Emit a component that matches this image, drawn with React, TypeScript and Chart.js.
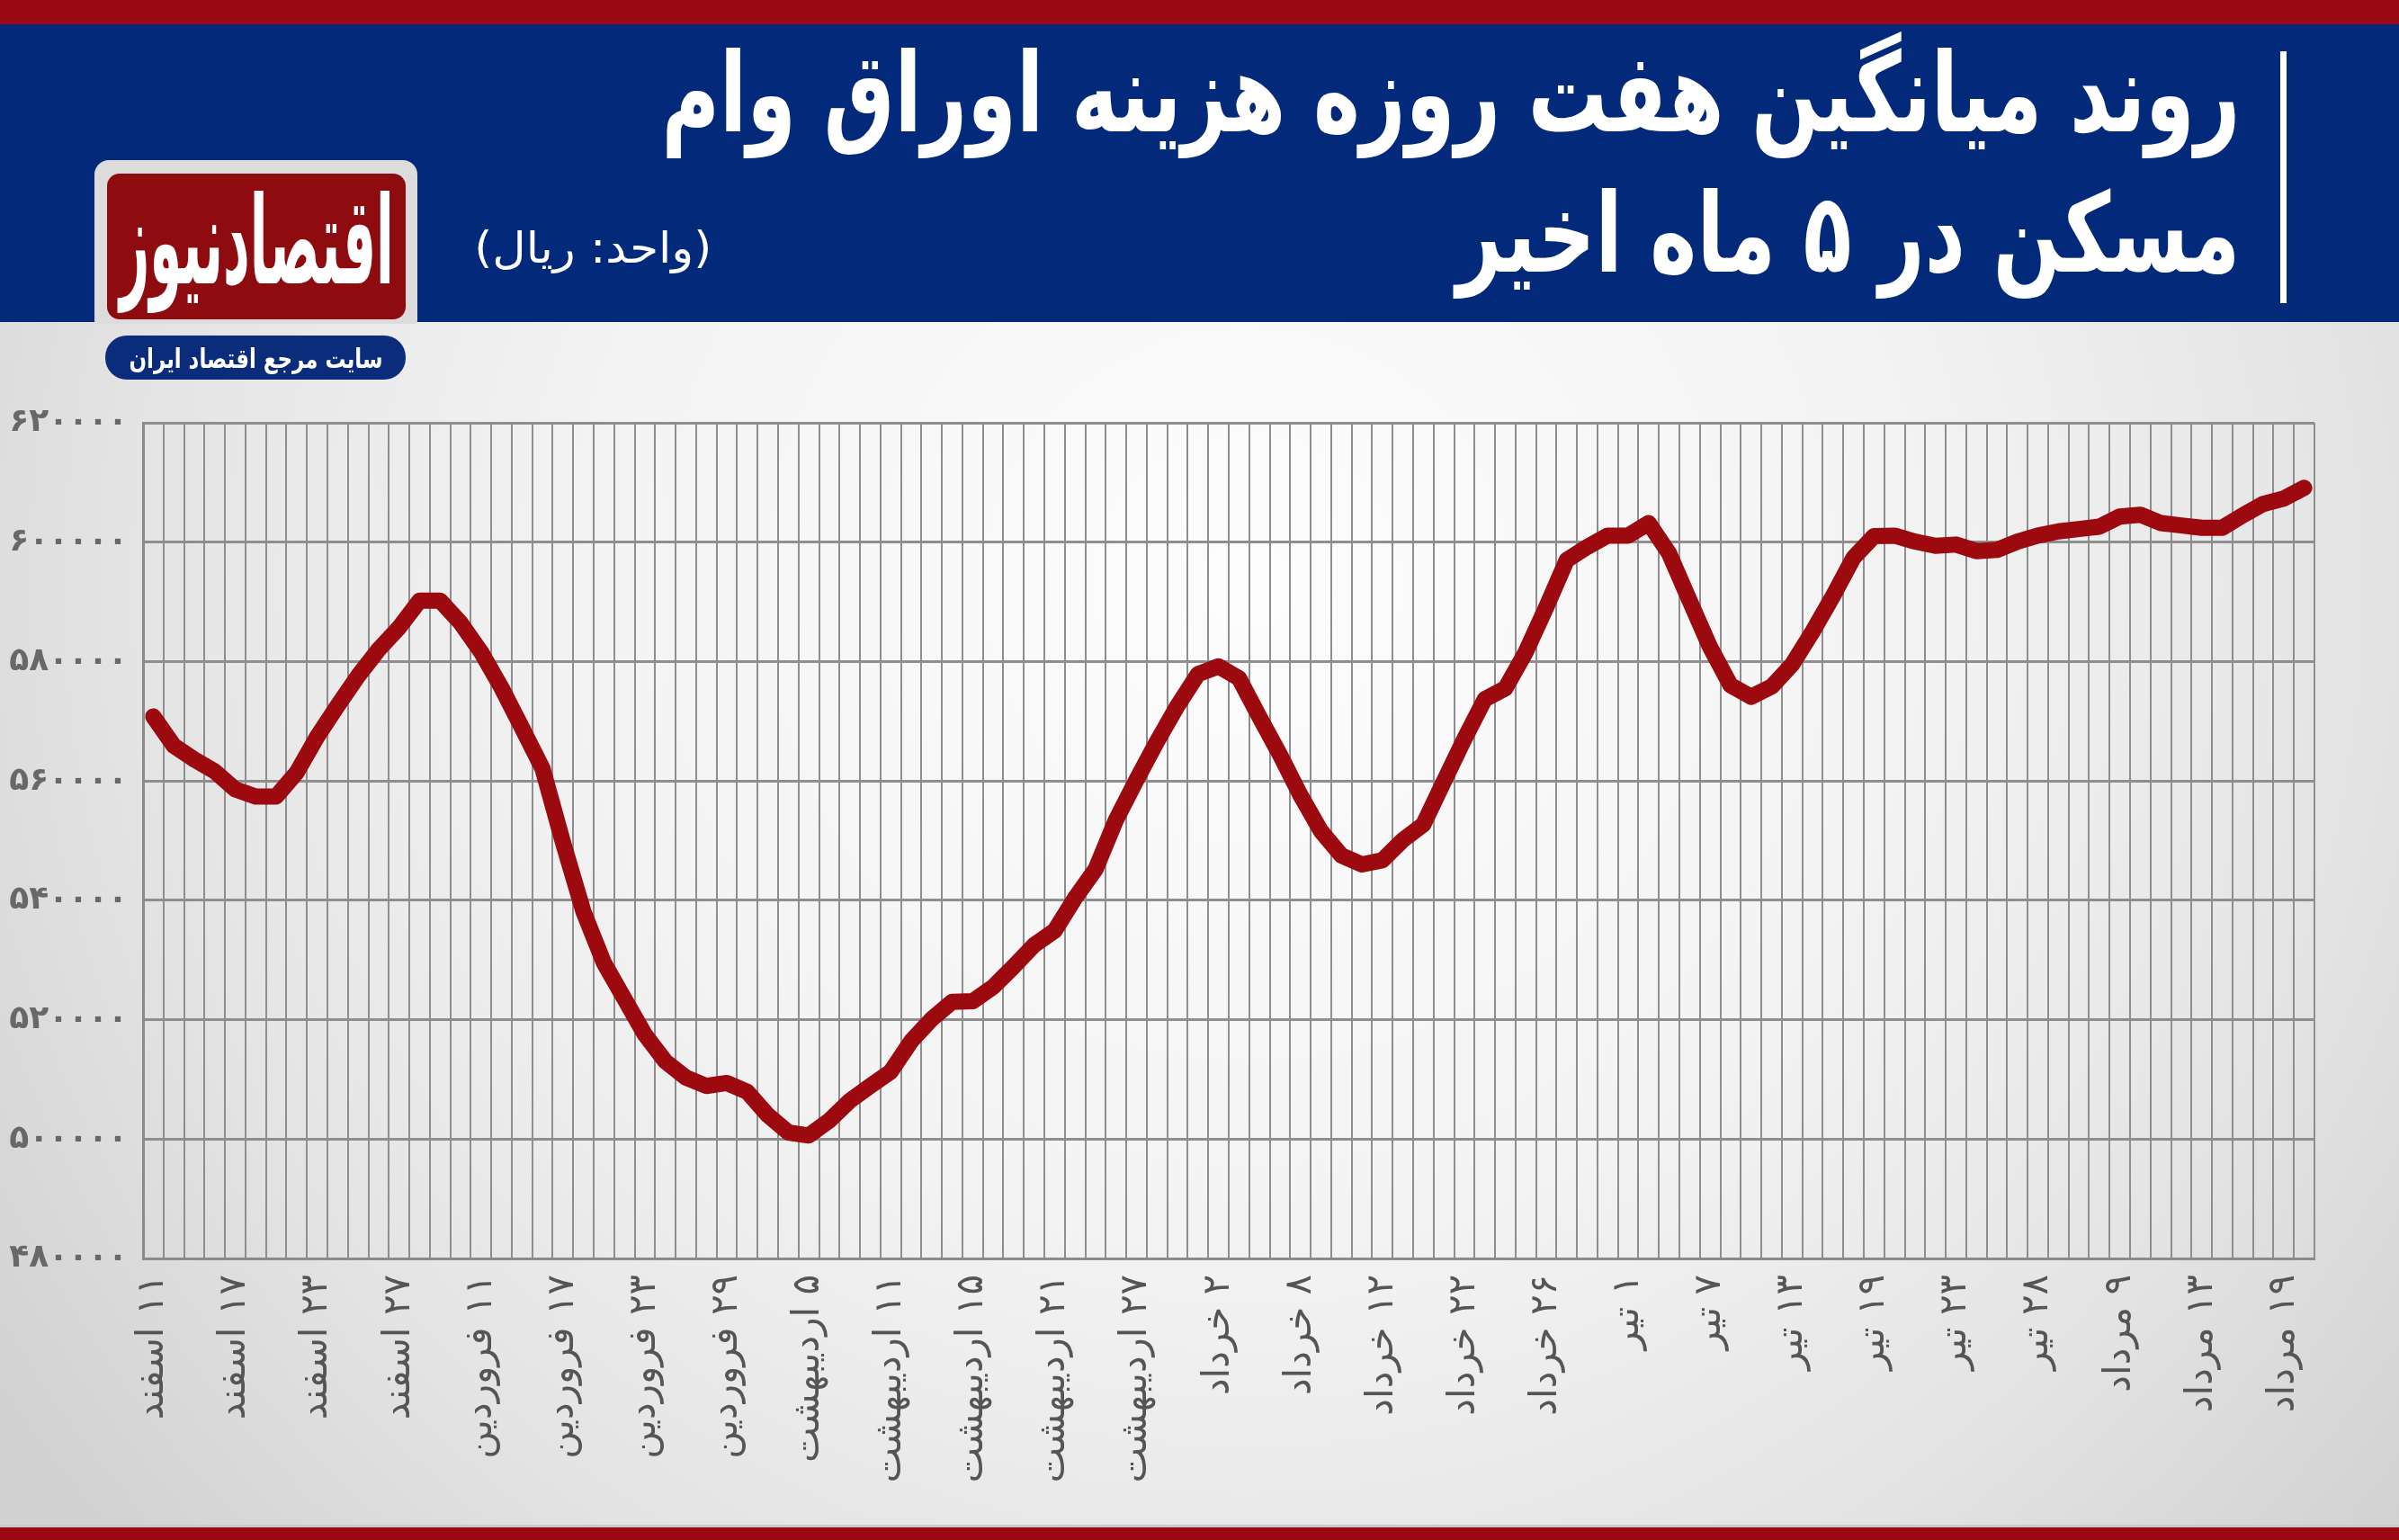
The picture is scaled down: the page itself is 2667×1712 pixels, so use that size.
import React, { useEffect, useRef } from "react";
import { Chart, registerables } from "chart.js";

Chart.register(...registerables);

// ---------- data ----------
const tickLabels: string[] = [
  "۱۱ اسفند", "۱۷ اسفند", "۲۳ اسفند", "۲۷ اسفند",
  "۱۱ فروردین", "۱۷ فروردین", "۲۳ فروردین", "۲۹ فروردین",
  "۵ اردیبهشت", "۱۱ اردیبهشت", "۱۵ اردیبهشت", "۲۱ اردیبهشت", "۲۷ اردیبهشت",
  "۲ خرداد", "۸ خرداد", "۱۲ خرداد", "۲۲ خرداد", "۲۶ خرداد",
  "۱ تیر", "۷ تیر", "۱۳ تیر", "۱۹ تیر", "۲۳ تیر", "۲۸ تیر",
  "۹ مرداد", "۱۳ مرداد", "۱۹ مرداد",
];

const costValues: number[] = [
  570800, 565900, 563600, 561600, 558600, 557400, 557400, 561400, 567400, 572600,
  577600, 582000, 585700, 590200, 590200, 586500, 581600, 575600, 568900, 562100,
  549700, 538100, 529500, 523500, 517500, 513000, 510300, 508900, 509400, 507900,
  504000, 501100, 500600, 503100, 506400, 508900, 511300, 516400, 520100, 523000,
  523100, 525500, 528900, 532500, 534900, 540400, 545200, 553500, 560200, 566600,
  572600, 577900, 579200, 577200, 570700, 564400, 557600, 551600, 547500, 546000,
  546700, 550100, 552700, 559900, 567000, 573700, 575500, 581600, 589100, 597000,
  599200, 601100, 601100, 603200, 598100, 590200, 582400, 576000, 574100, 575800,
  579500, 585000, 591000, 597400, 601000, 601100, 600100, 599400, 599600, 598500,
  598700, 600100, 601100, 601800, 602200, 602600, 604300, 604600, 603200, 602800,
  602400, 602400, 604500, 606400, 607300, 609100,
];

const labelEvery = 4;
const yMin = 480000;
const yMax = 620000;
const yStep = 20000;

const titleLine1 = "روند میانگین هفت روزه هزینه اوراق وام";
const titleLine2 = "مسکن در ۵ ماه اخیر";
const unitText = "(واحد: ریال)";
const logoText = "اقتصادنیوز";
const logoTagline = "سایت مرجع اقتصاد ایران";

const categories: string[] = costValues.map((_, i) =>
  i % labelEvery === 0 ? tickLabels[i / labelEvery] ?? "" : ""
);

// ---------- helpers ----------
const W = 2667;
const H = 1712;
const FONT = "'DejaVu Sans', sans-serif";

const faDigits = (n: number | string) =>
  String(n).replace(/\d/g, (d) => "۰۱۲۳۴۵۶۷۸۹"[Number(d)]);

let measureCtx: CanvasRenderingContext2D | null = null;
function measure(text: string, font: string): number {
  if (!measureCtx) {
    const c = document.createElement("canvas");
    measureCtx = c.getContext("2d");
  }
  if (!measureCtx) return 1;
  measureCtx.font = font;
  return measureCtx.measureText(text).width || 1;
}

type TxtProps = {
  text: string;
  baseline: number;
  size: number;
  weight?: string;
  color?: string;
  right?: number;
  centerX?: number;
  width?: number;
  scale?: number;
};

function Txt({ text, baseline, size, weight = "normal", color = "#fff", right, centerX, width, scale }: TxtProps) {
  const font = `${weight} ${size}px ${FONT}`;
  const natural = measure(text, font);
  const s = scale ?? (width ? width / natural : 1);
  const top = baseline - 0.846 * size;
  const style: React.CSSProperties = {
    position: "absolute",
    top,
    font,
    lineHeight: `${size}px`,
    color,
    whiteSpace: "nowrap",
    direction: "rtl",
  };
  if (right !== undefined) {
    style.left = right - natural;
    style.width = natural;
    style.transform = `scaleX(${s})`;
    style.transformOrigin = "right center";
  } else if (centerX !== undefined) {
    style.left = centerX - natural / 2;
    style.width = natural;
    style.textAlign = "center";
    style.transform = `scaleX(${s})`;
    style.transformOrigin = "center center";
  }
  return <div style={style}>{text}</div>;
}

function LineChart() {
  const ref = useRef<HTMLCanvasElement | null>(null);
  useEffect(() => {
    if (!ref.current) return;
    const chart = new Chart(ref.current, {
      type: "line",
      data: {
        labels: categories,
        datasets: [
          {
            data: costValues,
            borderColor: "#9c0a10",
            borderWidth: 18,
            borderJoinStyle: "round",
            borderCapStyle: "round",
            pointRadius: 0,
            pointHoverRadius: 0,
            tension: 0,
            fill: false,
            clip: false as any,
          },
        ],
      },
      options: {
        animation: false,
        responsive: false,
        maintainAspectRatio: false,
        devicePixelRatio: 1,
        events: [],
        layout: { padding: { top: 470, right: 94, left: 0, bottom: 0 } },
        plugins: {
          legend: { display: false },
          tooltip: { enabled: false },
          title: { display: false },
        },
        scales: {
          x: {
            type: "category",
            offset: true,
            grid: {
              offset: true,
              color: "#8e8e8e",
              lineWidth: 2,
              drawTicks: false,
              tickLength: 0,
            },
            border: { display: true, color: "#8a8a8a", width: 3 },
            ticks: {
              autoSkip: false,
              maxRotation: 90,
              minRotation: 90,
              padding: 18,
              color: "#555555",
              font: { family: FONT, size: 42 },
            },
            afterFit: (s: any) => {
              s.height = H - 1399;
            },
          },
          y: {
            min: yMin,
            max: yMax,
            grid: { color: "#8e8e8e", lineWidth: 3, drawTicks: false, tickLength: 0 },
            border: { display: true, color: "#8a8a8a", width: 3 },
            ticks: {
              stepSize: yStep,
              padding: 17,
              color: "#686868",
              font: { family: FONT, size: 36, weight: "bold" },
              callback: (v: any) => faDigits(v),
            },
            afterFit: (s: any) => {
              s.width = 159;
            },
          },
        },
      } as any,
    });
    return () => chart.destroy();
  }, []);
  return (
    <canvas
      ref={ref}
      width={W}
      height={H}
      style={{ position: "absolute", left: 0, top: 0, width: W, height: H, direction: "rtl" }}
    />
  );
}

export default function App() {
  const titleFont = `bold 122px ${FONT}`;
  const titleScale = 1755 / measure(titleLine1, titleFont);
  return (
    <div
      style={{
        position: "fixed",
        left: 0,
        top: 0,
        width: W,
        height: H,
        overflow: "hidden",
        background:
          "radial-gradient(ellipse 62% 95% at 52% 38%, #fdfdfd 0%, #f3f3f3 45%, #e4e4e4 75%, #d2d2d2 100%)",
      }}
    >
      {/* top red bar */}
      <div style={{ position: "absolute", left: 0, top: 0, width: W, height: 27, background: "#9b0a12" }} />
      {/* blue header */}
      <div style={{ position: "absolute", left: 0, top: 27, width: W, height: 331, background: "#03297a" }} />
      {/* bottom red bar */}
      <div style={{ position: "absolute", left: 0, top: 1698, width: W, height: 14, background: "#9b0a12" }} />
      <div style={{ position: "absolute", left: 0, top: 1695, width: W, height: 3, background: "#c9c9c9" }} />

      {/* title */}
      <div style={{ position: "absolute", left: 2535, top: 57, width: 7, height: 280, background: "#ffffff" }} />
      <Txt text={titleLine1} baseline={146} size={122} weight="bold" right={2490} scale={titleScale} />
      <Txt text={titleLine2} baseline={302} size={122} weight="bold" right={2490} scale={titleScale} />
      <Txt text={unitText} baseline={292} size={48} right={791} width={264} />

      {/* logo */}
      <div
        style={{
          position: "absolute",
          left: 105,
          top: 178,
          width: 359,
          height: 182,
          background: "#dcdcdc",
          borderRadius: "16px 16px 4px 4px",
        }}
      />
      <div
        style={{
          position: "absolute",
          left: 119,
          top: 193,
          width: 332,
          height: 162,
          background: "#8e0c10",
          borderRadius: 14,
        }}
      />
      <Txt text={logoText} baseline={315} size={135} weight="bold" centerX={285} width={305} />
      <div
        style={{
          position: "absolute",
          left: 117,
          top: 373,
          width: 334,
          height: 49,
          background: "#0b2b7b",
          borderRadius: 24,
        }}
      />
      <Txt text={logoTagline} baseline={409} size={30} weight="bold" centerX={284} width={282} />

      <LineChart />
    </div>
  );
}
